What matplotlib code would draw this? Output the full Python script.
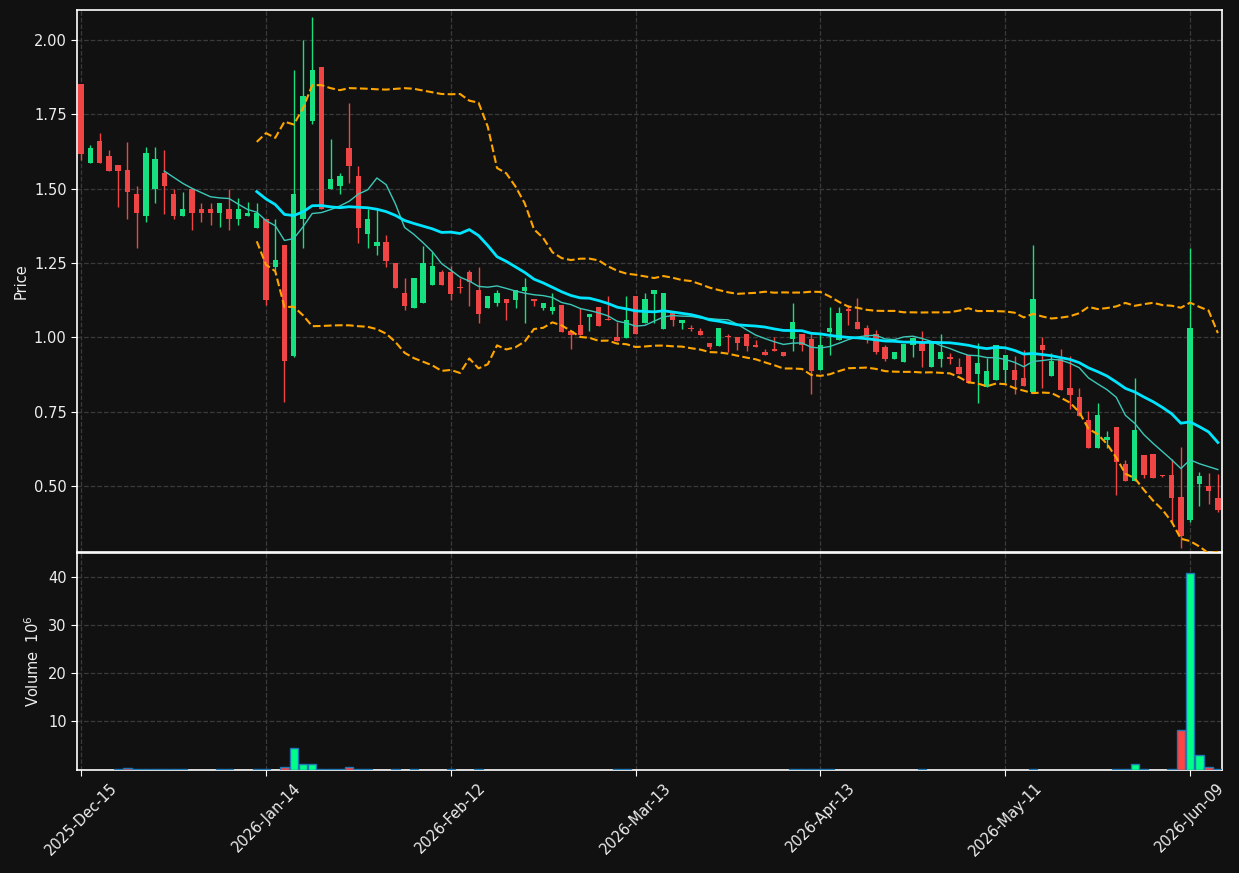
import matplotlib
matplotlib.use('Agg')
import matplotlib.pyplot as plt
import numpy as np
import pandas as pd

# daily OHLC (index 0 = 2025-12-15, one entry per trading day)
opens = [1.850, 1.586, 1.659, 1.608, 1.578, 1.561, 1.481, 1.408, 1.499, 1.551,
	1.481, 1.408, 1.500, 1.430, 1.430, 1.418, 1.430, 1.398, 1.408, 1.368,
	1.399, 1.237, 1.310, 0.937, 1.399, 1.727, 1.910, 1.500, 1.509, 1.635,
	1.541, 1.348, 1.307, 1.320, 1.249, 1.149, 1.099, 1.116, 1.177, 1.219,
	1.219, 1.170, 1.219, 1.159, 1.099, 1.116, 1.129, 1.126, 1.156, 1.129,
	1.099, 1.089, 1.108, 1.020, 1.040, 1.069, 1.101, 1.062, 1.001, 0.999,
	1.139, 1.049, 1.146, 1.029, 1.089, 1.049, 1.032, 1.021, 0.980, 0.972,
	1.004, 1.001, 1.011, 0.973, 0.951, 0.961, 0.951, 0.995, 1.011, 0.994,
	0.891, 1.019, 0.992, 1.094, 1.051, 1.031, 1.011, 0.967, 0.928, 0.918,
	0.975, 0.980, 0.901, 0.928, 0.931, 0.900, 0.942, 0.878, 0.834, 0.858,
	0.890, 0.890, 0.863, 0.815, 0.974, 0.871, 0.928, 0.830, 0.800, 0.722,
	0.630, 0.656, 0.699, 0.575, 0.519, 0.605, 0.608, 0.539, 0.538, 0.464,
	0.385, 0.507, 0.501, 0.461]
highs = [1.850, 1.648, 1.688, 1.628, 1.578, 1.658, 1.510, 1.639, 1.639, 1.628,
	1.499, 1.489, 1.500, 1.450, 1.450, 1.450, 1.497, 1.470, 1.456, 1.450,
	1.399, 1.399, 1.310, 1.899, 2.000, 2.078, 1.910, 1.668, 1.551, 1.789,
	1.576, 1.430, 1.430, 1.344, 1.249, 1.198, 1.199, 1.307, 1.287, 1.228,
	1.239, 1.198, 1.228, 1.235, 1.139, 1.159, 1.129, 1.159, 1.198, 1.129,
	1.117, 1.149, 1.108, 1.020, 1.099, 1.080, 1.101, 1.138, 1.052, 1.138,
	1.139, 1.149, 1.159, 1.149, 1.089, 1.060, 1.040, 1.030, 0.980, 1.031,
	1.010, 1.001, 1.011, 0.991, 0.961, 1.001, 0.951, 1.117, 1.011, 1.010,
	1.010, 1.101, 1.101, 1.108, 1.134, 1.040, 1.025, 0.973, 0.951, 0.978,
	0.998, 1.021, 0.984, 1.010, 0.948, 0.930, 0.942, 0.980, 0.930, 0.973,
	0.941, 0.937, 0.956, 1.310, 1.000, 0.948, 0.961, 0.937, 0.829, 0.753,
	0.779, 0.684, 0.699, 0.587, 0.862, 0.605, 0.608, 0.539, 0.590, 0.631,
	1.299, 0.548, 0.544, 0.541]
lows = [1.597, 1.586, 1.586, 1.559, 1.438, 1.399, 1.299, 1.388, 1.450, 1.413,
	1.399, 1.408, 1.360, 1.388, 1.379, 1.371, 1.360, 1.379, 1.408, 1.368,
	1.108, 1.226, 0.782, 0.933, 1.299, 1.718, 1.430, 1.500, 1.483, 1.520,
	1.317, 1.299, 1.276, 1.237, 1.166, 1.091, 1.099, 1.116, 1.177, 1.177,
	1.126, 1.148, 1.107, 1.050, 1.099, 1.106, 1.060, 1.099, 1.050, 1.106,
	1.091, 1.080, 1.019, 0.960, 1.009, 1.020, 1.039, 1.058, 0.989, 0.999,
	1.013, 1.049, 1.050, 1.029, 1.039, 1.029, 1.020, 1.008, 0.962, 0.972,
	0.952, 0.956, 0.953, 0.969, 0.942, 0.954, 0.938, 0.953, 0.953, 0.809,
	0.891, 0.941, 0.992, 1.040, 1.028, 0.980, 0.945, 0.920, 0.928, 0.918,
	0.933, 0.901, 0.899, 0.901, 0.909, 0.878, 0.848, 0.779, 0.834, 0.858,
	0.846, 0.809, 0.837, 0.815, 0.829, 0.871, 0.824, 0.758, 0.737, 0.628,
	0.630, 0.628, 0.470, 0.519, 0.519, 0.527, 0.529, 0.531, 0.381, 0.292,
	0.380, 0.432, 0.441, 0.413]
closes = [1.617, 1.635, 1.586, 1.559, 1.559, 1.489, 1.418, 1.619, 1.598, 1.509,
	1.408, 1.430, 1.418, 1.418, 1.418, 1.450, 1.398, 1.430, 1.419, 1.419,
	1.125, 1.259, 0.921, 1.481, 1.810, 1.900, 1.430, 1.531, 1.541, 1.576,
	1.368, 1.399, 1.320, 1.257, 1.166, 1.106, 1.199, 1.249, 1.239, 1.177,
	1.146, 1.166, 1.187, 1.079, 1.139, 1.149, 1.116, 1.159, 1.169, 1.123,
	1.117, 1.102, 1.019, 1.009, 1.009, 1.080, 1.039, 1.058, 0.989, 1.060,
	1.013, 1.129, 1.159, 1.149, 1.059, 1.060, 1.028, 1.008, 0.968, 1.031,
	1.000, 0.982, 0.972, 0.969, 0.942, 0.954, 0.938, 1.051, 0.975, 0.887,
	0.974, 1.031, 1.082, 1.090, 1.028, 1.002, 0.952, 0.928, 0.951, 0.978,
	0.998, 0.955, 0.984, 0.951, 0.929, 0.878, 0.848, 0.914, 0.887, 0.973,
	0.941, 0.857, 0.837, 1.129, 0.957, 0.920, 0.824, 0.807, 0.737, 0.630,
	0.739, 0.665, 0.583, 0.519, 0.690, 0.538, 0.529, 0.535, 0.462, 0.334,
	1.031, 0.535, 0.485, 0.421]
# volume in millions
volumes = [0, 0, 0, 0, 0.05, 0.25, 0.05, 0.05, 0.05, 0.05,
	0.05, 0.05, 0, 0, 0, 0.05, 0.05, 0, 0, 0.05,
	0.05, 0, 0.6, 4.45, 1.05, 1.05, 0.2, 0.05, 0.05, 0.6,
	0.05, 0.05, 0, 0, 0.05, 0, 0.05, 0, 0, 0,
	0.05, 0, 0, 0.05, 0, 0, 0, 0, 0, 0,
	0, 0, 0, 0, 0, 0, 0, 0, 0.05, 0.05,
	0, 0, 0, 0, 0, 0, 0, 0, 0, 0,
	0, 0, 0, 0, 0, 0, 0, 0.05, 0.05, 0.05,
	0.05, 0.05, 0, 0, 0, 0, 0, 0, 0, 0,
	0, 0.05, 0, 0, 0, 0, 0, 0, 0, 0,
	0, 0, 0, 0.05, 0, 0, 0, 0, 0, 0,
	0, 0, 0.05, 0.05, 1.05, 0.05, 0, 0, 0.05, 8.3,
	40.8, 3.1, 0.6, 0.2]
tick_pos = [0, 20, 40, 60, 80, 100, 120]
tick_labels = ['2025-Dec-15', '2026-Jan-14', '2026-Feb-12', '2026-Mar-13',
	'2026-Apr-13', '2026-May-11', '2026-Jun-09']

BG = '#111111'
UP = '#16e07f'
DOWN = '#ef4545'
VUP = '#00ff88'
VDOWN = '#ff4444'
TXT = '#eeeeee'

df = pd.DataFrame({'Open': opens, 'High': highs, 'Low': lows, 'Close': closes, 'Volume': volumes})
x = np.arange(len(df))
up = df['Close'] >= df['Open']
sma10 = df['Close'].rolling(10).mean()
sma20 = df['Close'].rolling(20).mean()
sd20 = df['Close'].rolling(20).std(ddof=0)

plt.rcParams['font.family'] = 'DejaVu Sans'
plt.rcParams['font.size'] = 10.5

fig = plt.figure(figsize=(12.39, 8.73), dpi=100, facecolor=BG)
ax = fig.add_axes([77/1239, 1-552/873, 1145/1239, 542/873])
axv = fig.add_axes([77/1239, 1-770/873, 1145/1239, 217/873], sharex=ax)

for a in (ax, axv):
	a.set_facecolor(BG)
	a.grid(True, linestyle='--', color='#3a3a3a', linewidth=0.9)
	a.set_axisbelow(True)
	for s in a.spines.values():
		s.set_color('white')
		s.set_linewidth(1.2)
	a.tick_params(colors='white', labelcolor=TXT, length=4)

# candles
cols = np.where(up, UP, DOWN)
ax.vlines(x, df['Low'], df['High'], colors=cols, linewidth=1.0, zorder=2)
bottoms = np.minimum(df['Open'], df['Close'])
heights = np.maximum((df['Close'] - df['Open']).abs(), 0.004)
ax.bar(x, heights, bottom=bottoms, width=0.58, color=cols, linewidth=0, zorder=3)

# moving averages and bands
ax.plot(x, sma10, color='#3cc8b8', linewidth=1.0, zorder=4)
ax.plot(x, sma20, color='#00e5ff', linewidth=2.0, zorder=4)
ax.plot(x, sma20 + 2*sd20, color='#ffa500', linewidth=1.5, linestyle='--', zorder=4)
ax.plot(x, sma20 - 2*sd20, color='#ffa500', linewidth=1.5, linestyle='--', zorder=4)

ax.set_ylim(0.279, 2.10)
ax.set_yticks([0.50, 0.75, 1.00, 1.25, 1.50, 1.75, 2.00])
ax.set_yticklabels(['%.2f' % v for v in [0.50, 0.75, 1.00, 1.25, 1.50, 1.75, 2.00]])
ax.set_ylabel('Price', color=TXT)
ax.tick_params(axis='x', labelbottom=False)

# volume
vcols = np.where(up, VUP, VDOWN)
vol = df['Volume'].values
ecols = ['#1f77b4' if v > 0 else 'none' for v in vol]
axv.bar(x, vol, width=0.9, color=vcols, edgecolor=ecols, linewidth=1.0, zorder=3)
axv.set_ylim(-0.1, 45)
axv.set_yticks([10, 20, 30, 40])
axv.set_ylabel('Volume  $10^{6}$', color=TXT)

axv.set_xlim(-0.45, 123.45)
axv.set_xticks(tick_pos)
axv.set_xticklabels(tick_labels, rotation=45)

fig.savefig('out.png', dpi=100, facecolor=BG)
